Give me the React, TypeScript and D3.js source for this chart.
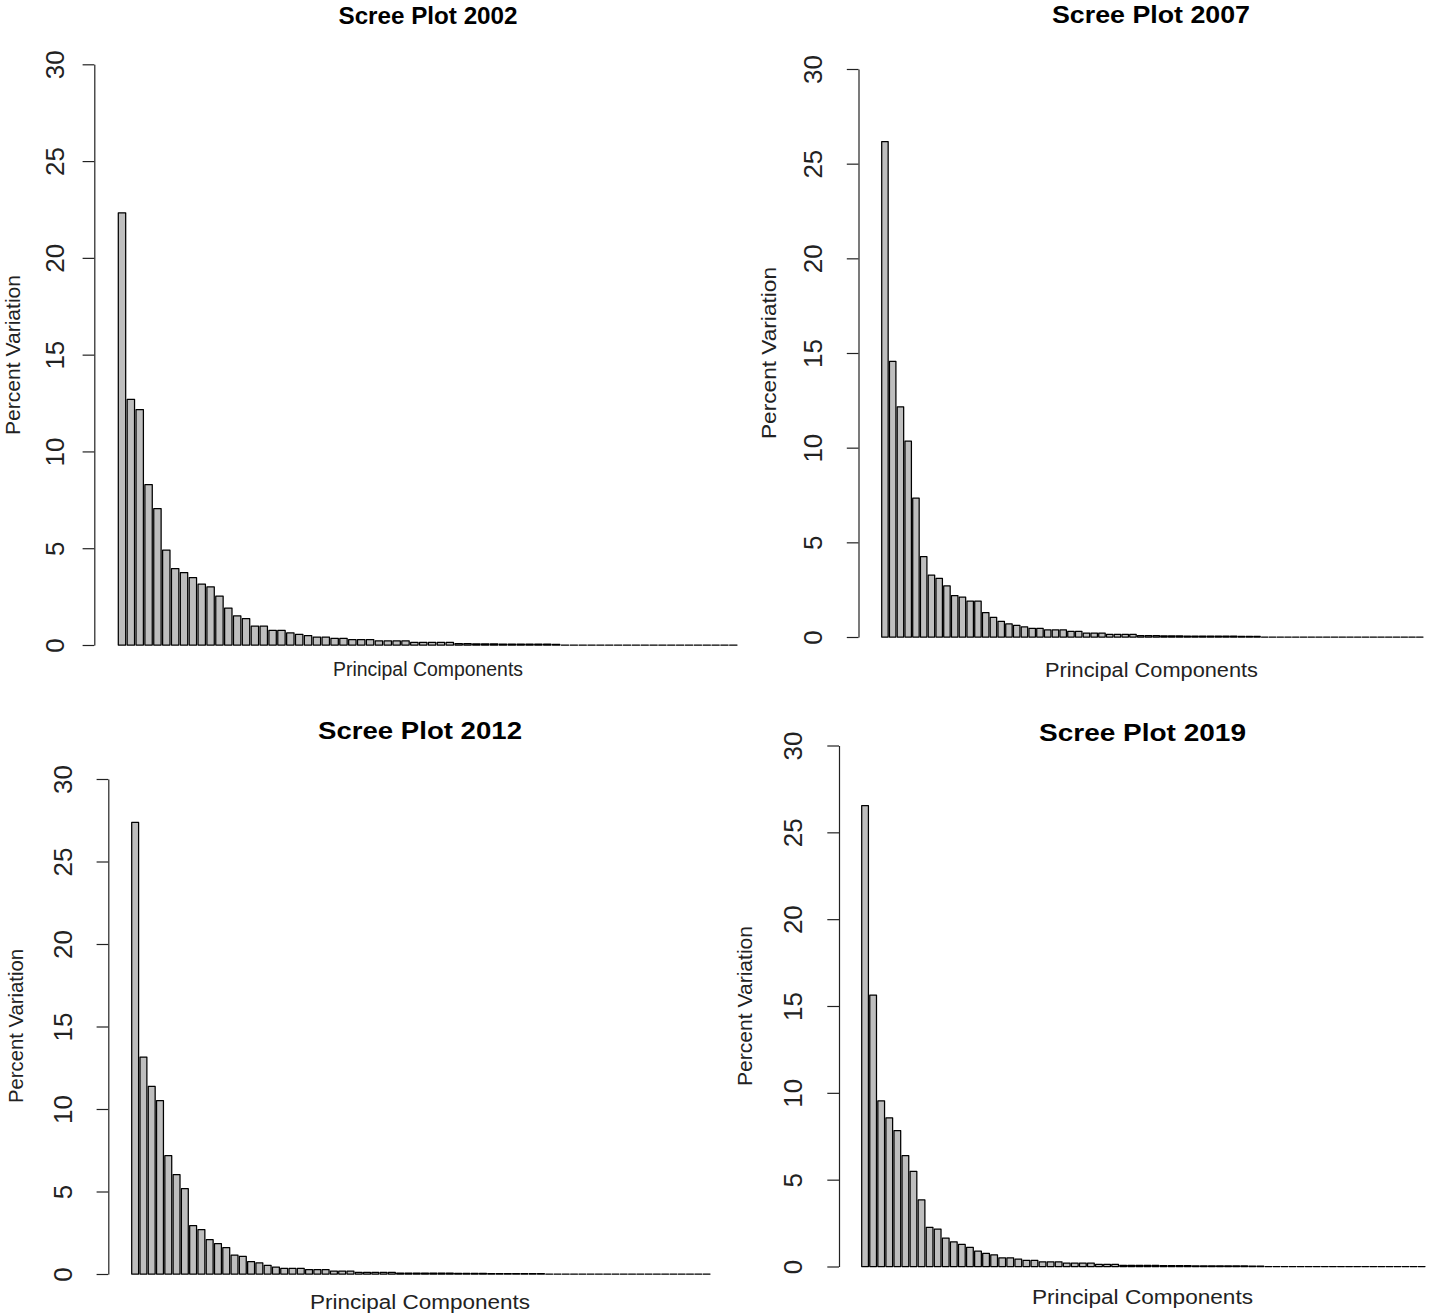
import { useEffect, useRef } from 'react';
import * as d3 from 'd3';

// percent of variance explained by each principal component (70 PCs per year)
const pct2002 = [
  22.33, 12.69, 12.16, 8.29, 7.05, 4.9, 3.95, 3.74, 3.48, 3.14,
  3.0, 2.52, 1.91, 1.5, 1.36, 0.97, 0.97, 0.76, 0.76, 0.62,
  0.55, 0.48, 0.41, 0.41, 0.34, 0.34, 0.28, 0.28, 0.28, 0.21,
  0.21, 0.21, 0.21, 0.14, 0.14, 0.14, 0.14, 0.13, 0.07, 0.07,
  0.06, 0.06, 0.06, 0.05, 0.05, 0.05, 0.04, 0.04, 0.04, 0.03,
  0, 0, 0, 0, 0, 0, 0, 0, 0, 0,
  0, 0, 0, 0, 0, 0, 0, 0, 0, 0,
];

const pct2007 = [
  26.17, 14.56, 12.16, 10.34, 7.33, 4.24, 3.27, 3.09, 2.7, 2.19,
  2.1, 1.89, 1.89, 1.29, 1.04, 0.83, 0.69, 0.62, 0.53, 0.46,
  0.46, 0.37, 0.37, 0.37, 0.3, 0.3, 0.21, 0.21, 0.21, 0.14,
  0.14, 0.14, 0.14, 0.07, 0.07, 0.07, 0.06, 0.06, 0.06, 0.05,
  0.05, 0.05, 0.05, 0.04, 0.04, 0.04, 0.03, 0.03, 0.03, 0,
  0, 0, 0, 0, 0, 0, 0, 0, 0, 0,
  0, 0, 0, 0, 0, 0, 0, 0, 0, 0,
];

const pct2012 = [
  27.37, 13.15, 11.37, 10.51, 7.17, 6.02, 5.17, 2.93, 2.69, 2.08,
  1.84, 1.6, 1.15, 1.07, 0.75, 0.67, 0.53, 0.42, 0.34, 0.34,
  0.34, 0.26, 0.26, 0.26, 0.18, 0.18, 0.18, 0.1, 0.1, 0.1,
  0.1, 0.1, 0.06, 0.06, 0.06, 0.05, 0.05, 0.05, 0.05, 0.04,
  0.04, 0.04, 0.04, 0.03, 0.03, 0.03, 0.03, 0.02, 0.02, 0.02,
  0, 0, 0, 0, 0, 0, 0, 0, 0, 0,
  0, 0, 0, 0, 0, 0, 0, 0, 0, 0,
];

const pct2019 = [
  26.54, 15.63, 9.54, 8.56, 7.83, 6.38, 5.48, 3.83, 2.25, 2.15,
  1.63, 1.42, 1.27, 1.1, 0.88, 0.75, 0.67, 0.5, 0.5, 0.42,
  0.35, 0.35, 0.27, 0.27, 0.27, 0.19, 0.19, 0.19, 0.19, 0.12,
  0.12, 0.12, 0.07, 0.07, 0.06, 0.06, 0.06, 0.05, 0.05, 0.05,
  0.05, 0.04, 0.04, 0.04, 0.04, 0.03, 0.03, 0.03, 0.02, 0.02,
  0, 0, 0, 0, 0, 0, 0, 0, 0, 0,
  0, 0, 0, 0, 0, 0, 0, 0, 0, 0,
];

const years = ['2002', '2007', '2012', '2019'];
const yTicks = [0, 5, 10, 15, 20, 25, 30];
const yMax = 30;

// where each panel sits on the page (the four plots were pasted at slightly different scales)
const panels = [
  { values: pct2002, axisX: 94.3, yTop: 64.3, yBot: 645, barL: 118.3, barR: 737,
    title: [428, 24, 179], xlab: [428, 676, 190], ylab: [19.5, 355, 160], tickX: 63.5 },
  { values: pct2007, axisX: 858.5, yTop: 69, yBot: 637, barL: 881.7, barR: 1423,
    title: [1151, 23, 198], xlab: [1151.5, 677, 213], ylab: [776, 353, 172], tickX: 822 },
  { values: pct2012, axisX: 108.3, yTop: 779, yBot: 1274, barL: 131.7, barR: 710,
    title: [420, 739, 204], xlab: [420, 1309, 220], ylab: [23, 1026, 154], tickX: 72 },
  { values: pct2019, axisX: 839, yTop: 745.5, yBot: 1266.5, barL: 861.7, barR: 1425,
    title: [1142.5, 741, 207], xlab: [1142.5, 1304, 221], ylab: [751.5, 1006, 160], tickX: 802 },
];

const FONT = '"Liberation Sans", Arial, Helvetica, sans-serif';
const W = 1429;
const H = 1316;

const App = (): JSX.Element => {
  const svgRef = useRef<SVGSVGElement>(null);

  useEffect(() => {
    const svg = d3.select(svgRef.current);
    svg.selectAll('*').remove();

    svg.append('rect').attr('width', W).attr('height', H).attr('fill', 'white');

    panels.forEach((p, k) => {
      const g = svg.append('g');
      const comps = p.values.map((_v, i) => `PC${i + 1}`);

      // R barplot default space = 0.2 of bar width
      const x = d3.scaleBand<string>()
        .domain(comps)
        .range([p.barL, p.barR])
        .paddingInner(0.2 / 1.2)
        .paddingOuter(0);

      const y = d3.scaleLinear().domain([0, yMax]).range([p.yBot, p.yTop]);

      // paths instead of rects so zero-height bars still draw their outline
      g.selectAll('path.bar')
        .data(p.values)
        .enter()
        .append('path')
        .attr('class', 'bar')
        .attr('d', (d, i) => {
          const x0 = x(comps[i]) as number;
          const x1 = x0 + x.bandwidth();
          return `M${x0},${y(0)}H${x1}V${y(d)}H${x0}Z`;
        })
        .attr('fill', '#bebebe')
        .attr('stroke', '#000')
        .attr('stroke-width', 1.25)
        .attr('stroke-linejoin', 'round');

      const axis = g.append('g')
        .attr('transform', `translate(${p.axisX},0)`)
        .call(d3.axisLeft(y).tickValues(yTicks).tickSize(11.7).tickSizeOuter(0));

      axis.select('.domain').attr('stroke', '#222').attr('stroke-width', 1.2);
      axis.selectAll('.tick line').attr('stroke', '#222').attr('stroke-width', 1.2);
      axis.selectAll('.tick text')
        .attr('x', null)
        .attr('dy', null)
        .attr('transform', `translate(${p.tickX - p.axisX},0) rotate(-90)`)
        .attr('text-anchor', 'middle')
        .attr('font-family', FONT)
        .attr('font-size', 26)
        .attr('fill', '#222')
        .text(d => String(d));

      g.append('text')
        .attr('x', p.title[0])
        .attr('y', p.title[1])
        .attr('text-anchor', 'middle')
        .attr('font-family', FONT)
        .attr('font-weight', 'bold')
        .attr('font-size', 24)
        .attr('textLength', p.title[2])
        .attr('lengthAdjust', 'spacingAndGlyphs')
        .attr('fill', '#000')
        .text(`Scree Plot ${years[k]}`);

      g.append('text')
        .attr('x', p.xlab[0])
        .attr('y', p.xlab[1])
        .attr('text-anchor', 'middle')
        .attr('font-family', FONT)
        .attr('font-size', 19.5)
        .attr('textLength', p.xlab[2])
        .attr('lengthAdjust', 'spacingAndGlyphs')
        .attr('fill', '#222')
        .text('Principal Components');

      g.append('text')
        .attr('transform', `translate(${p.ylab[0]},${p.ylab[1]}) rotate(-90)`)
        .attr('text-anchor', 'middle')
        .attr('font-family', FONT)
        .attr('font-size', 20)
        .attr('textLength', p.ylab[2])
        .attr('lengthAdjust', 'spacingAndGlyphs')
        .attr('fill', '#222')
        .text('Percent Variation');
    });

    return () => {
      d3.select(svgRef.current).selectAll('*').remove();
    };
  }, []);

  return (
    <svg
      ref={svgRef}
      width={W}
      height={H}
      style={{ position: 'absolute', left: 0, top: 0, display: 'block' }}
    />
  );
};

export default App;
